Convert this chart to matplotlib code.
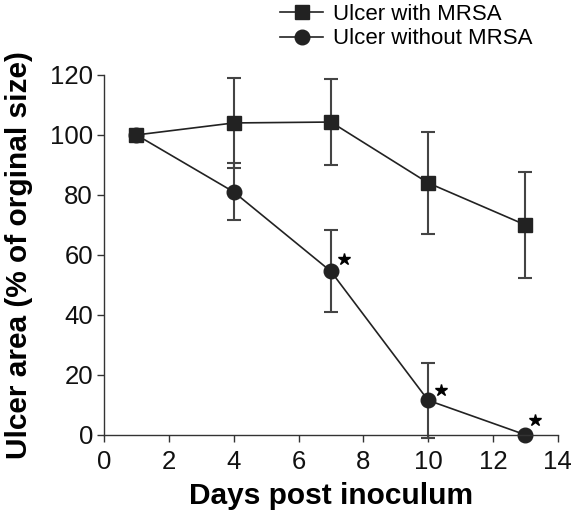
import matplotlib
matplotlib.use("Agg")
import matplotlib.pyplot as plt

plt.rcParams['font.family'] = ['Liberation Sans', 'DejaVu Sans']

days = [1, 4, 7, 10, 13]
mrsa = [100, 104, 104.3, 84, 70]
mrsa_err = [0, 15, 14.4, 17, 17.7]
no_mrsa = [100, 81, 54.5, 11.5, 0]
no_mrsa_err = [0, 9.5, 13.7, 12.5, 0]

# significance stars (x, y)
star_x = [7.4, 10.4, 13.3]
star_y = [58.5, 15, 5]

fig = plt.figure(figsize=(5.75, 5.17), dpi=100)
ax = fig.add_axes([0.181, 0.159, 0.789, 0.696])

ax.errorbar(days, mrsa, yerr=mrsa_err, color='#222222', ecolor='#444444',
            marker='s', markersize=10.5, linewidth=1.2, elinewidth=1.5,
            capsize=4.7, capthick=1.5, label='Ulcer with MRSA', clip_on=False)
ax.errorbar(days, no_mrsa, yerr=no_mrsa_err, color='#222222', ecolor='#444444',
            marker='o', markersize=10.5, linewidth=1.2, elinewidth=1.5,
            capsize=4.7, capthick=1.5, label='Ulcer without MRSA', clip_on=False)
ax.plot(star_x, star_y, linestyle='none', marker='*', markersize=9,
        color='black', clip_on=False)

ax.set_xlim(0, 14)
ax.set_ylim(0, 120)
ax.set_xticks(range(0, 15, 2))
ax.set_yticks(range(0, 121, 20))
ax.spines['top'].set_visible(False)
ax.spines['right'].set_visible(False)
for s in ('left', 'bottom'):
    ax.spines[s].set_color('#333333')
    ax.spines[s].set_linewidth(1.0)
ax.tick_params(direction='out', length=5, width=1, colors='#333333',
               labelsize=18.5, labelcolor='#111111', pad=3)
ax.tick_params(axis='x', pad=6)

ax.set_xlabel('Days post inoculum', fontsize=21.5, fontweight='bold', labelpad=6)
ax.set_ylabel('Ulcer area (% of orginal size)', fontsize=21.5, fontweight='bold',
              labelpad=12)

handles, labels = ax.get_legend_handles_labels()
handles = [h[0] for h in handles]
fig.legend(handles, labels, loc='upper left', bbox_to_anchor=(0.487, 0.992),
           frameon=False, fontsize=16, handlelength=1.95, handletextpad=0.45,
           labelspacing=0.15, borderpad=0, borderaxespad=0)

fig.savefig('out.png', dpi=100)
